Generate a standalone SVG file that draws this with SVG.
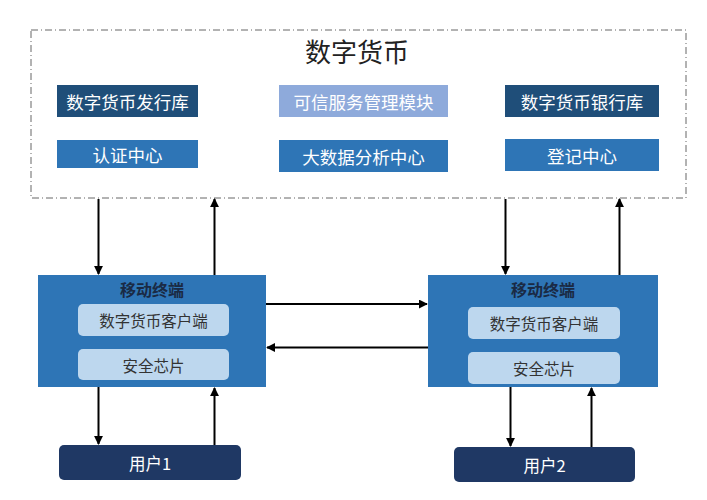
<svg xmlns="http://www.w3.org/2000/svg" width="707" height="500" viewBox="0 0 707 500">
<style>
text{font-family:"Noto Sans CJK SC","Liberation Sans",sans-serif;text-anchor:middle;dominant-baseline:central}
.wt{fill:#ffffff;font-size:17.5px}
.ut{fill:#ffffff;font-size:16.5px}
.navy{fill:#1f4e79}
.light{fill:#8eaadb}
.blue{fill:#2e75b6}
.term{fill:#2e75b6}
.inner{fill:#bdd7ee}
.user{fill:#1f3864}
.it{fill:#333333;font-size:15.5px}
.tt{fill:#1a2a44;font-size:16px;font-weight:bold}
.ln{stroke:#000;stroke-width:2;fill:none;marker-end:url(#ah)}
</style>
<defs>
<marker id="ah" viewBox="0 0 10 10" refX="9" refY="5" markerWidth="4.5" markerHeight="4.5" orient="auto" markerUnits="strokeWidth">
<path d="M0,0 L10,5 L0,10 z" fill="#000"/>
</marker>
</defs>
<rect width="707" height="500" fill="#ffffff"/>
<g id="digital-currency">
<rect x="31" y="30" width="655" height="168" fill="none" stroke="#666666" stroke-width="1" stroke-dasharray="7 3 1 3"/>
<text x="357" y="50" style="font-size:26px;fill:#222">数字货币</text>
</g>
<g id="issue-lib"><rect class="navy" x="57" y="85" width="141" height="32"/><text class="wt" x="127.5" y="101">数字货币发行库</text></g>
<g id="tsm"><rect class="light" x="279" y="85" width="169" height="32"/><text class="wt" x="363.5" y="101">可信服务管理模块</text></g>
<g id="bank-lib"><rect class="navy" x="505" y="85" width="154" height="32"/><text class="wt" x="582" y="101">数字货币银行库</text></g>
<g id="auth"><rect class="blue" x="57" y="140" width="141" height="28"/><text class="wt" x="127.5" y="154">认证中心</text></g>
<g id="bigdata"><rect class="blue" x="279" y="140" width="169" height="32"/><text class="wt" x="363.5" y="156">大数据分析中心</text></g>
<g id="register"><rect class="blue" x="505" y="139" width="154" height="32"/><text class="wt" x="582" y="155">登记中心</text></g>
<g id="terminal1">
<rect class="term" x="38" y="275" width="228" height="112"/>
<text class="tt" x="152" y="289">移动终端</text>
<rect class="inner" x="78" y="304" width="151" height="32" rx="5"/>
<text class="it" x="153.5" y="320">数字货币客户端</text>
<rect class="inner" x="78" y="349" width="151" height="31" rx="5"/>
<text class="it" x="153.5" y="364.5">安全芯片</text>
</g>
<g id="terminal2">
<rect class="term" x="428" y="275" width="230" height="112"/>
<text class="tt" x="543" y="289">移动终端</text>
<rect class="inner" x="468" y="307" width="152" height="32" rx="5"/>
<text class="it" x="544" y="323">数字货币客户端</text>
<rect class="inner" x="468" y="352" width="152" height="32" rx="5"/>
<text class="it" x="544" y="368">安全芯片</text>
</g>
<g id="user1"><rect class="user" x="59" y="445" width="182" height="35" rx="5"/><text class="ut" x="150" y="462.5">用户1</text></g>
<g id="user2"><rect class="user" x="454" y="447" width="181" height="35" rx="5"/><text class="ut" x="544.5" y="464.5">用户2</text></g>
<g id="connectors">
<line class="ln" x1="98.5" y1="199" x2="98.5" y2="274"/>
<line class="ln" x1="214.5" y1="275" x2="214.5" y2="199"/>
<line class="ln" x1="505.5" y1="199" x2="505.5" y2="274"/>
<line class="ln" x1="619.5" y1="275" x2="619.5" y2="199"/>
<line class="ln" x1="266" y1="304" x2="427" y2="304"/>
<line class="ln" x1="428" y1="347.5" x2="267" y2="347.5"/>
<line class="ln" x1="98.5" y1="387" x2="98.5" y2="444"/>
<line class="ln" x1="214.5" y1="445" x2="214.5" y2="388"/>
<line class="ln" x1="510.5" y1="387" x2="510.5" y2="446"/>
<line class="ln" x1="591.5" y1="447" x2="591.5" y2="388"/>
</g>
</svg>
